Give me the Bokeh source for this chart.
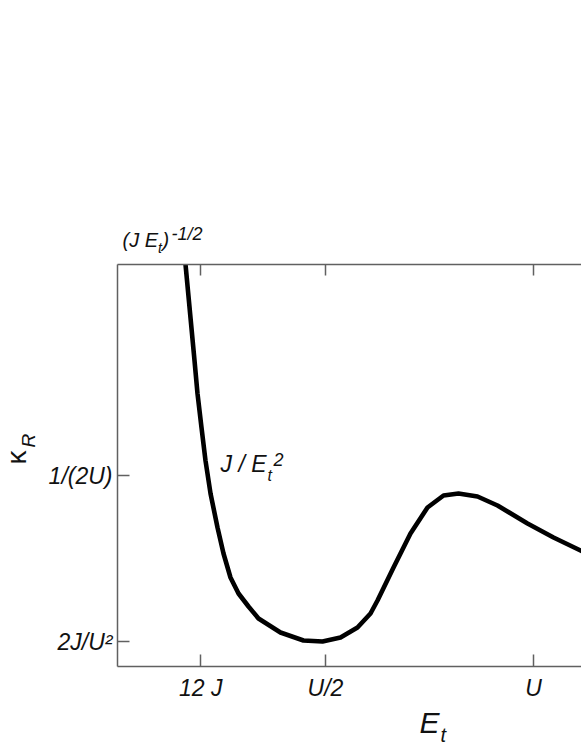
import math
from bokeh.plotting import figure
from bokeh.models import Range1d, LinearAxis, FixedTicker, Label
from bokeh.embed import file_html
from bokeh.resources import INLINE

# ---- data (x in units of U, y in units of kappa; J = U/60) ----
kappa_x = [0.1635, 0.1851, 0.1923, 0.2019, 0.2115, 0.2236, 0.2404, 0.2548, 0.2716, 0.2909,
           0.3149, 0.3389, 0.3918, 0.4471, 0.4928, 0.5361, 0.5769, 0.6082, 0.6250, 0.6635,
           0.7043, 0.7452, 0.7837, 0.8197, 0.8654, 0.9135, 0.9856, 1.0481, 1.1130, 1.1370]
kappa_y = [1.0936, 0.8237, 0.7310, 0.6354, 0.5426, 0.4498, 0.3542, 0.2811, 0.2137, 0.1687,
           0.1321, 0.0984, 0.0590, 0.0365, 0.0337, 0.0450, 0.0731, 0.1125, 0.1490, 0.2418,
           0.3374, 0.4105, 0.4442, 0.4498, 0.4414, 0.4161, 0.3655, 0.3261, 0.2896, 0.2755]

x_ticks = [0.2, 0.5, 1.0]
x_tick_labels = ["12 J", "U/2", "U"]
y_ticks = [1 / 30, 0.5]
y_tick_labels = ["2J/U\u00b2", "1/(2U)"]

# extent of the drawn axes box (data units)
x_lo, x_hi = 0.0, 1.1154
y_lo, y_hi = -0.03655, 1.0936

FONT = "Liberation Sans"
AXIS_COLOR = "#606060"
TEXT_COLOR = "#111111"

W, H = 581, 752
# the plotting area covers the whole canvas; axes are pinned at the box edges
X0, X1 = -0.28125, 1.11538
Y0, Y1 = -0.27832, 1.83582

p = figure(width=W, height=H, x_range=Range1d(X0, X1), y_range=Range1d(Y0, Y1),
           output_backend="svg", toolbar_location=None,
           x_axis_type=None, y_axis_type=None)
p.min_border = 0
p.min_border_left = 0
p.min_border_right = 0
p.min_border_top = 0
p.min_border_bottom = 0
p.outline_line_color = None
p.xgrid.visible = False
p.ygrid.visible = False
p.background_fill_color = "white"
p.border_fill_color = "white"


def style_axis(ax, tick_in):
    ax.axis_line_color = AXIS_COLOR
    ax.axis_line_width = 1.5
    ax.major_tick_line_color = AXIS_COLOR
    ax.major_tick_line_width = 1.5
    ax.major_tick_in = tick_in
    ax.major_tick_out = 0
    ax.minor_tick_line_color = None
    ax.major_label_text_font = FONT
    ax.major_label_text_font_size = "23px"
    ax.major_label_text_font_style = "italic"
    ax.major_label_text_color = TEXT_COLOR


bottom = LinearAxis(ticker=FixedTicker(ticks=x_ticks), fixed_location=y_lo,
                    bounds=(x_lo, X1 + 0.05),
                    major_label_overrides={t: l for t, l in zip(x_ticks, x_tick_labels)})
style_axis(bottom, 12)
bottom.major_label_standoff = 8
p.add_layout(bottom, "below")

top = LinearAxis(ticker=FixedTicker(ticks=x_ticks), fixed_location=y_hi,
                 bounds=(x_lo, X1 + 0.05))
style_axis(top, 11)
top.major_label_text_font_size = "0px"
top.major_label_text_color = None
p.add_layout(top, "above")

left = LinearAxis(ticker=FixedTicker(ticks=y_ticks), fixed_location=x_lo,
                  bounds=(y_lo, y_hi),
                  major_label_overrides={t: l for t, l in zip(y_ticks, y_tick_labels)})
style_axis(left, 12)
left.major_label_standoff = 5
p.add_layout(left, "left")

p.line(kappa_x, kappa_y, line_color="black", line_width=4.6,
       line_join="round", line_cap="butt")


# --- text annotations placed in canvas pixels, converted to data space ---
def to_data(px, py):
    return (X0 + px / W * (X1 - X0), Y1 - py / H * (Y1 - Y0))


K = 0.42  # baseline correction (fraction of font size)


def add_text(txt, px, py, size, rotated=False, style="italic"):
    if rotated:
        px = px - K * size
    else:
        py = py - K * size
    x, y = to_data(px, py)
    p.add_layout(Label(x=x, y=y, text=txt, text_font=FONT, text_font_size=f"{size}px",
                       text_font_style=style, text_color=TEXT_COLOR,
                       angle=math.pi / 2 if rotated else 0.0,
                       text_align="left", text_baseline="alphabetic"))


# x-axis title E_t
add_text("E", 419, 735, 30)
add_text("t", 440, 743, 20)

# y-axis title kappa_R (rotated)
add_text("\u03ba", 28, 464, 28, rotated=True, style="normal")
add_text("R", 36, 447, 19, rotated=True)

# top annotation (J E_t)^(-1/2)
add_text("(J E", 122, 248, 20)
add_text("t", 157.5, 253, 14)
add_text(")", 162, 248, 20)
add_text("-1/2", 171, 241, 18)

# curve annotation J / E_t^2
add_text("J / E", 220, 473, 23)
add_text("t", 267, 482, 16)
add_text("2", 273, 467, 18)

open("out.html", "w").write(file_html(p, INLINE))
